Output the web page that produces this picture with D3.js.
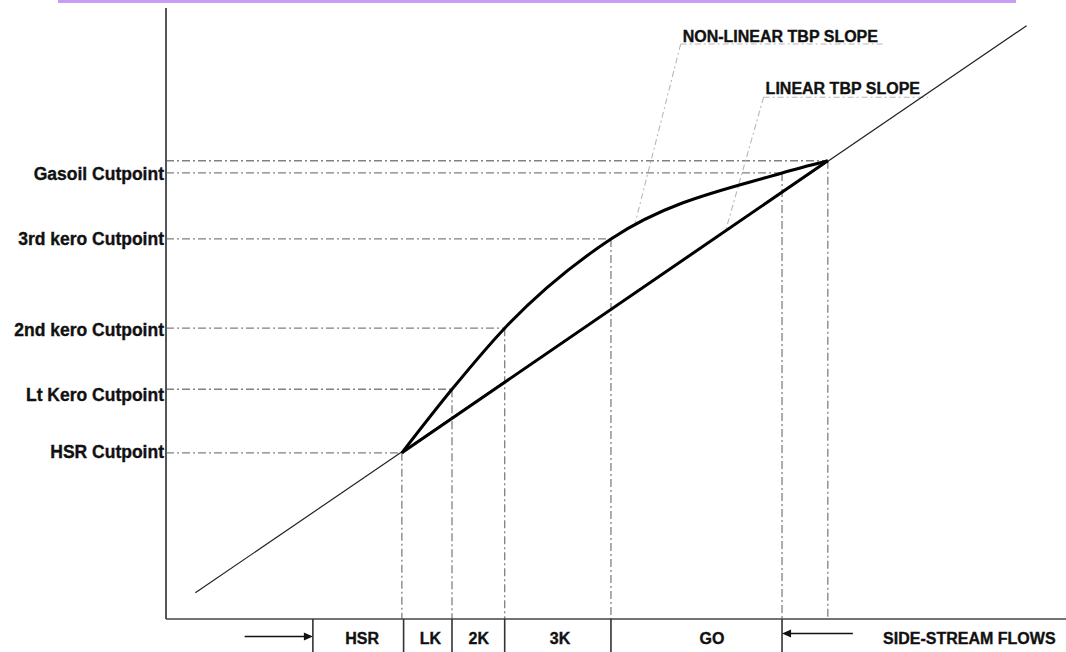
<!DOCTYPE html>
<html><head><meta charset="utf-8">
<script src="https://cdn.jsdelivr.net/npm/d3@7"></script>
<style>body{margin:0;background:#fff} svg{display:block} text{stroke:#111;stroke-width:0.35px}</style>
</head><body><svg id="c" width="1066" height="652"></svg>
<script>
// ---- data (flow axis 0-100, temperature axis 0-100) ----
const cutNames   = ["HSR Cutpoint", "Lt Kero Cutpoint", "2nd kero Cutpoint", "3rd kero Cutpoint", "Gasoil Cutpoint"];
const cutFlow    = [27.3, 33.1, 39.2, 51.5, 71.3, 76.6];   // non-linear TBP points (last = end of GO)
const cutTemp    = [27.2, 37.6, 47.6, 62.2, 73.0, 75.0];
const labelTemp  = [27.3, 36.7, 47.3, 62.2, 72.8];
const linearFlow = [27.3, 76.6];
const linearTemp = [27.2, 75.0];
const diagFlow   = [3.4, 99.6];
const diagTemp   = [4.3, 97.1];
const streamNames     = ["HSR", "LK", "2K", "3K", "GO"];
const streamLabelFlow = [22.7, 30.6, 36.2, 45.6, 63.2];
const streamTicks     = [17.0, 27.5, 33.1, 39.2, 51.5, 71.3];
const arrowRight = {from: 9.1, to: 17.0};
const arrowLeft  = {from: 79.5, to: 71.3};
const flowsLabel = "SIDE-STREAM FLOWS";
const flowsLabelFlow = 83.0;
const annotations = [
  {text: "NON-LINEAR TBP SLOPE", flow: 59.8, temp: 94.4, lineEnd: 83.3, lineTemp: 94.1, tipFlow: 54.3, tipTemp: 64.8},
  {text: "LINEAR TBP SLOPE",     flow: 69.4, temp: 85.9, lineEnd: 88.2, lineTemp: 85.4, tipFlow: 64.8, tipTemp: 63.7}
];

// ---- drawing ----
const W = 1066, H = 652;
const svg = d3.select("#c");
const x = d3.scaleLinear().domain([0, 100]).range([166, 1030]);
const y = d3.scaleLinear().domain([0, 100]).range([619, 8]);
const font = "'Liberation Sans', Arial, sans-serif";

svg.append("rect").attr("x", 58).attr("y", 0).attr("width", 958).attr("height", 3).attr("fill", "#c99cf3");

// cut lines (dash-dot)
const cutPts = cutFlow.map((f, i) => [f, cutTemp[i]]);
const gCut = svg.append("g").attr("stroke", "#808080").attr("stroke-width", 1.3)
  .attr("stroke-dasharray", "8,3,2,3").attr("fill", "none");
gCut.selectAll("line.h").data(cutPts).join("line").attr("class", "h")
  .attr("x1", x(0)).attr("x2", d => x(d[0])).attr("y1", d => y(d[1])).attr("y2", d => y(d[1]));
gCut.selectAll("line.v").data(cutPts).join("line").attr("class", "v")
  .attr("x1", d => x(d[0])).attr("x2", d => x(d[0])).attr("y1", d => y(d[1])).attr("y2", y(0));

// annotation leaders and underlines
const gAnn = svg.append("g").attr("stroke", "#b8b8b8").attr("stroke-width", 1.1)
  .attr("stroke-dasharray", "6,3,2,3").attr("fill", "none");
gAnn.selectAll("line.u").data(annotations).join("line").attr("class", "u")
  .attr("x1", d => x(d.flow) - 2).attr("x2", d => x(d.lineEnd))
  .attr("y1", d => y(d.lineTemp)).attr("y2", d => y(d.lineTemp));
gAnn.selectAll("line.l").data(annotations).join("line").attr("class", "l")
  .attr("x1", d => x(d.flow) - 2).attr("y1", d => y(d.lineTemp))
  .attr("x2", d => x(d.tipFlow)).attr("y2", d => y(d.tipTemp));
svg.append("g").selectAll("text").data(annotations).join("text")
  .attr("x", d => x(d.flow)).attr("y", d => y(d.temp))
  .attr("font-family", font).attr("font-weight", "bold").attr("font-size", 16)
  .attr("fill", "#111").text(d => d.text);

// thin diagonal
const line = d3.line().x(d => x(d[0])).y(d => y(d[1]));
svg.append("path").datum(diagFlow.map((f, i) => [f, diagTemp[i]]))
  .attr("d", line).attr("stroke", "#222").attr("stroke-width", 1.2).attr("fill", "none");

// linear TBP
svg.append("path").datum(linearFlow.map((f, i) => [f, linearTemp[i]]))
  .attr("d", line).attr("stroke", "#000").attr("stroke-width", 3).attr("fill", "none");

// non-linear TBP
svg.append("path").datum(cutPts)
  .attr("d", d3.line().x(d => x(d[0])).y(d => y(d[1])).curve(d3.curveMonotoneX))
  .attr("stroke", "#000").attr("stroke-width", 3).attr("fill", "none");

// axes
svg.append("line").attr("x1", x(0)).attr("x2", x(0)).attr("y1", y(100)).attr("y2", y(0))
  .attr("stroke", "#555").attr("stroke-width", 2);
svg.append("line").attr("x1", x(0)).attr("x2", W).attr("y1", y(0)).attr("y2", y(0))
  .attr("stroke", "#444").attr("stroke-width", 1.6);

// left labels
svg.append("g").selectAll("text").data(cutNames).join("text")
  .attr("x", x(0) - 2).attr("y", (d, i) => y(labelTemp[i]))
  .attr("dy", "0.36em").attr("text-anchor", "end")
  .attr("font-family", font).attr("font-weight", "bold").attr("font-size", 17.5)
  .attr("fill", "#111").text(d => d);

// bottom band
svg.append("g").selectAll("line").data(streamTicks).join("line")
  .attr("x1", d => x(d)).attr("x2", d => x(d)).attr("y1", y(0)).attr("y2", H)
  .attr("stroke", "#333").attr("stroke-width", 1.6);
svg.append("g").selectAll("text").data(streamNames).join("text")
  .attr("x", (d, i) => x(streamLabelFlow[i])).attr("y", 644).attr("text-anchor", "middle")
  .attr("font-family", font).attr("font-weight", "bold").attr("font-size", 16)
  .attr("fill", "#111").text(d => d);
svg.append("text").attr("x", x(flowsLabelFlow)).attr("y", 644)
  .attr("font-family", font).attr("font-weight", "bold").attr("font-size", 16)
  .attr("fill", "#111").text(flowsLabel);

// arrows
function arrow(a, yy) {
  const dir = Math.sign(a.to - a.from);
  const x1 = x(a.from), x2 = x(a.to);
  svg.append("line").attr("x1", x1).attr("x2", x2 - dir * 6).attr("y1", yy).attr("y2", yy)
    .attr("stroke", "#111").attr("stroke-width", 1.6);
  svg.append("path").attr("d", `M${x2},${yy} L${x2 - dir * 9},${yy - 4} L${x2 - dir * 9},${yy + 4} Z`)
    .attr("fill", "#111");
}
arrow(arrowRight, 636.5);
arrow(arrowLeft, 633.5);
</script></body></html>
